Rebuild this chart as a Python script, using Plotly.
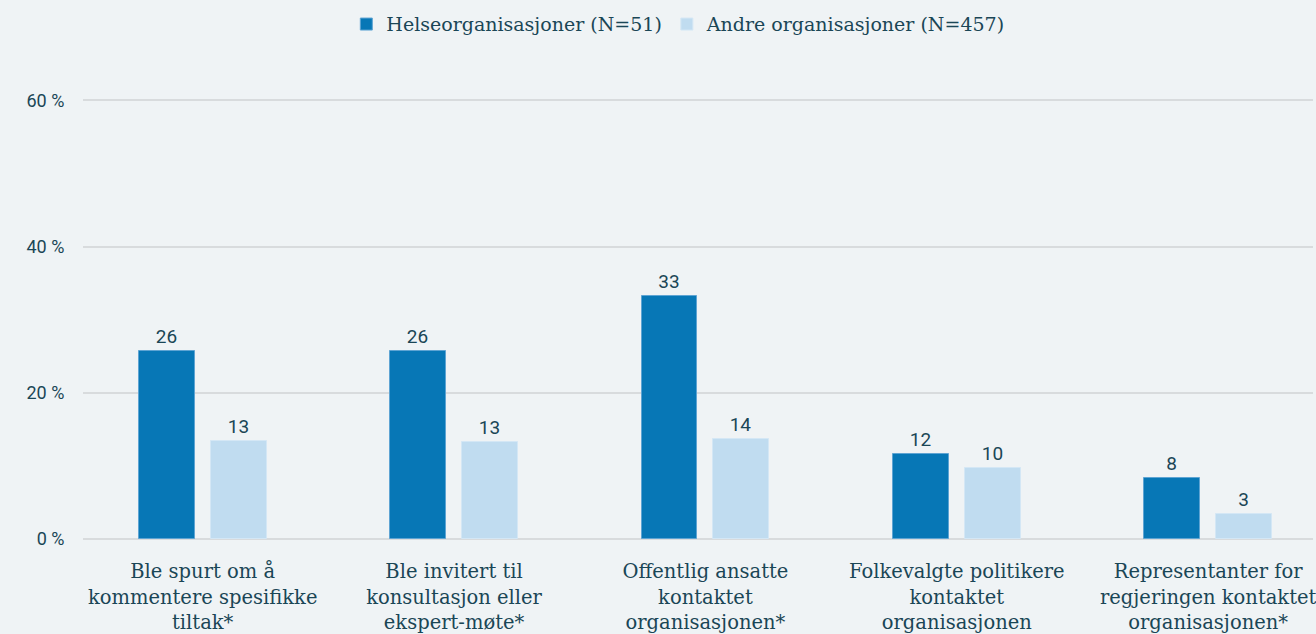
import plotly.graph_objects as go

categories = [
    "Ble spurt om å<br>kommentere spesifikke<br>tiltak*",
    "Ble invitert til<br>konsultasjon eller<br>ekspert-møte*",
    "Offentlig ansatte<br>kontaktet<br>organisasjonen*",
    "Folkevalgte politikere<br>kontaktet<br>organisasjonen",
    "Representanter for<br>regjeringen kontaktet<br>organisasjonen*",
]
helse_values = [25.7, 25.7, 33.3, 11.6, 8.3]
helse_labels = ["26", "26", "33", "12", "8"]
andre_values = [13.4, 13.3, 13.7, 9.7, 3.4]
andre_labels = ["13", "13", "14", "10", "3"]
series_names = ["Helseorganisasjoner (N=51)", "Andre organisasjoner (N=457)"]
y_ticks = [0, 20, 40, 60]
y_tick_labels = ["0 %", "20 %", "40 %", "60 %"]

BG = "#EFF3F5"
TEXT = "#1A4656"
SERIF = "DejaVu Serif"
SANS = "Roboto"

fig = go.Figure()
fig.add_trace(go.Bar(
    x=categories, y=helse_values, name=series_names[0],
    marker=dict(color="#0777B6", line=dict(color="#5EA4D3", width=1)),
    width=0.222, offset=-0.254,
    text=helse_labels, textposition="outside", cliponaxis=False,
    textfont=dict(family=SANS, size=19, color=TEXT),
))
fig.add_trace(go.Bar(
    x=categories, y=andre_values, name=series_names[1],
    marker=dict(color="#C0DCF0", line=dict(color="#D4E7F5", width=1)),
    width=0.222, offset=0.032,
    text=andre_labels, textposition="outside", cliponaxis=False,
    textfont=dict(family=SANS, size=19, color=TEXT),
))

fig.update_layout(
    width=1316, height=634,
    paper_bgcolor=BG, plot_bgcolor=BG,
    margin=dict(l=83, r=0, t=99, b=92),
    barmode="overlay",
    showlegend=True,
    legend=dict(
        orientation="h", x=0.484, xanchor="center", y=1.17, yanchor="middle",
        font=dict(family=SERIF, size=19, color=TEXT),
        bgcolor="rgba(0,0,0,0)", itemwidth=30, traceorder="normal",
    ),
    font=dict(family=SANS, color=TEXT),
    xaxis=dict(
        type="category", range=[-0.476, 4.417],
        showgrid=False, showline=False, zeroline=False,
        ticks="outside", ticklen=15, tickcolor="rgba(0,0,0,0)",
        tickfont=dict(family=SERIF, size=19.5, color=TEXT),
    ),
    yaxis=dict(
        range=[0, 60.2], tickmode="array", tickvals=y_ticks, ticktext=y_tick_labels,
        showgrid=True, gridcolor="#D8DBDD", gridwidth=1.5,
        zeroline=True, zerolinecolor="#D8DBDD", zerolinewidth=2,
        showline=False,
        ticks="outside", ticklen=14, tickcolor="rgba(0,0,0,0)",
        tickfont=dict(family=SANS, size=18, color=TEXT),
    ),
    bargap=0,
)

fig.write_html(
    "out.html",
    config={"displayModeBar": False},
    post_script="document.body.style.margin='0';document.body.style.background='" + BG + "';",
)
